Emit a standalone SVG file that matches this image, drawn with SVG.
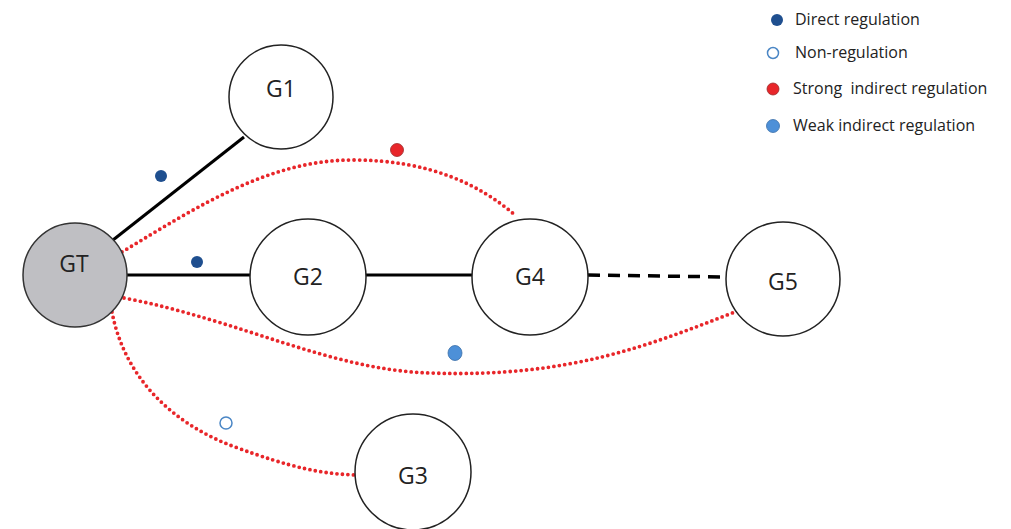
<svg xmlns="http://www.w3.org/2000/svg" width="1011" height="529" viewBox="0 0 1011 529">
<style>
.node{fill:#fff;stroke:#222;stroke-width:1.5}
.gt{fill:#bfbfc3;stroke:#333;stroke-width:1.5}
.lbl{font-family:"Open Sans","Liberation Sans",sans-serif;font-size:23px;fill:#222;text-anchor:middle;dominant-baseline:central}
.solid{stroke:#000;stroke-width:3;fill:none}
.dash{stroke:#000;stroke-width:3.5;fill:none;stroke-dasharray:12 8}
.dot{stroke:#e8262a;stroke-width:3.8;fill:none;stroke-dasharray:0 5.5;stroke-linecap:round}
.leg{font-family:"Open Sans","Liberation Sans",sans-serif;font-size:16px;fill:#222}
.dir{fill:#1f4f8f}
.non{fill:#fff;stroke:#4a86c5;stroke-width:1.5}
.str{fill:#e8262a;stroke:#9a2a2a;stroke-width:0.8}
.weak{fill:#4d90d8;stroke:#3a6fa8;stroke-width:0.8}
</style>
<g id="connectors">
<line class="solid" x1="113" y1="240" x2="244" y2="137"/>
<line class="solid" x1="127" y1="275" x2="250" y2="275"/>
<line class="solid" x1="366" y1="275" x2="472" y2="275"/>
<line class="dash" x1="588" y1="275" x2="727" y2="277"/>
<path class="dot" d="M122 252 C200 205 270 160 353 160 C430 160 480 185 515 215"/>
<path class="dot" d="M124 298 C240 320 330 370 430 373 C570 378 650 345 740 310"/>
<path class="dot" d="M112 312 C125 380 175 425 235 447 C290 467 320 474 357 475"/>
</g>
<g id="markers">
<circle class="dir" cx="161" cy="176" r="6"/>
<circle class="dir" cx="197" cy="262" r="6"/>
<circle class="str" cx="397" cy="150" r="6.5"/>
<ellipse class="weak" cx="455" cy="353" rx="7" ry="7.5"/>
<circle class="non" cx="226" cy="423" r="6"/>
</g>
<g id="GT"><circle class="gt" cx="75" cy="275" r="52"/><text class="lbl" x="74" y="263">GT</text></g>
<g id="G1"><circle class="node" cx="281" cy="97" r="52"/><text class="lbl" x="281" y="88">G1</text></g>
<g id="G2"><circle class="node" cx="308" cy="277" r="58"/><text class="lbl" x="308" y="276">G2</text></g>
<g id="G4"><circle class="node" cx="530" cy="277" r="58"/><text class="lbl" x="530" y="276">G4</text></g>
<g id="G5"><circle class="node" cx="783" cy="279" r="57"/><text class="lbl" x="783" y="281">G5</text></g>
<g id="G3"><circle class="node" cx="413" cy="472" r="58"/><text class="lbl" x="413" y="475">G3</text></g>
<g id="legend">
<circle class="dir" cx="777" cy="20" r="6"/>
<text class="leg" x="795" y="25">Direct regulation</text>
<circle class="non" cx="773" cy="53" r="5.5"/>
<text class="leg" x="795" y="58">Non-regulation</text>
<circle class="str" cx="773" cy="89" r="6"/>
<text class="leg" x="793" y="94">Strong&#160; indirect regulation</text>
<circle class="weak" cx="773" cy="126" r="6.5"/>
<text class="leg" x="793" y="131">Weak indirect regulation</text>
</g>
</svg>
